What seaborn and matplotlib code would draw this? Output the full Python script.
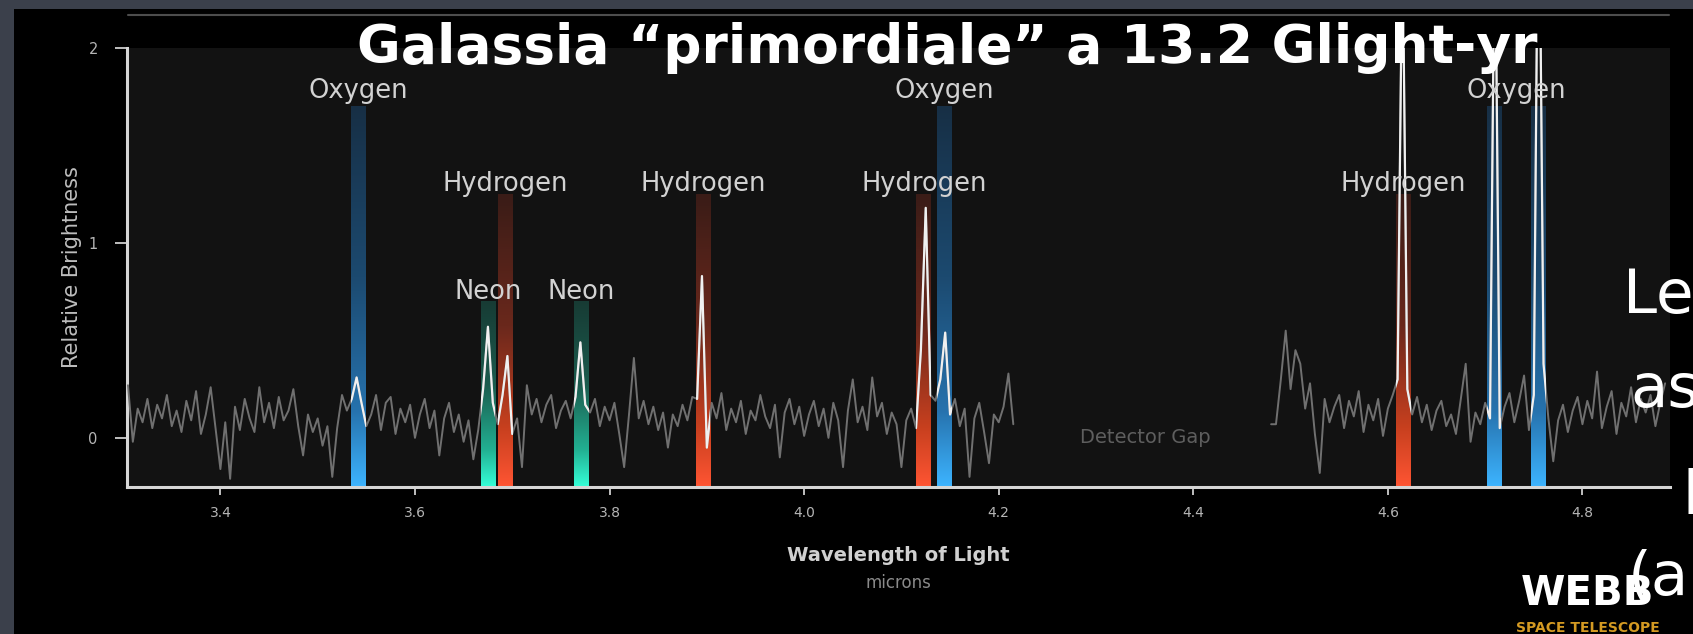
import numpy as np
import pandas as pd
import matplotlib
matplotlib.use("Agg")
import matplotlib.pyplot as plt
from matplotlib.colors import LinearSegmentedColormap
from matplotlib.patches import Rectangle
from matplotlib.lines import Line2D
import seaborn as sns

# ---------------- data ----------------
# NIRSpec spectrum, sampled every 0.005 micron on each side of the detector gap
short_start = 3.305
long_start = 4.480
step = 0.005
flux_short = [
    0.27, -0.02, 0.15, 0.08, 0.20, 0.05, 0.17, 0.10, 0.22, 0.06,
    0.14, 0.03, 0.19, 0.09, 0.24, 0.02, 0.12, 0.26, 0.05, -0.16,
    0.08, -0.21, 0.16, 0.04, 0.20, 0.10, 0.03, 0.26, 0.08, 0.18,
    0.05, 0.21, 0.09, 0.14, 0.25, 0.06, -0.09, 0.12, 0.03, 0.10,
    -0.04, 0.06, -0.20, 0.05, 0.22, 0.14, 0.20, 0.31, 0.18, 0.06,
    0.12, 0.22, 0.04, 0.18, 0.21, 0.02, 0.15, 0.08, 0.17, 0.00,
    0.12, 0.20, 0.05, 0.14, -0.09, 0.10, 0.18, 0.03, 0.12, -0.02,
    0.09, -0.11, 0.04, 0.25, 0.57, 0.18, 0.07, 0.22, 0.42, 0.02,
    0.10, -0.15, 0.27, 0.12, 0.20, 0.08, 0.17, 0.22, 0.05, 0.14,
    0.19, 0.10, 0.21, 0.49, 0.17, 0.13, 0.20, 0.06, 0.16, 0.09,
    0.18, 0.02, -0.15, 0.12, 0.41, 0.10, 0.19, 0.07, 0.16, 0.04,
    0.13, -0.05, 0.12, 0.06, 0.17, 0.09, 0.21, 0.20, 0.83, -0.05,
    0.18, 0.10, 0.23, 0.04, 0.15, 0.08, 0.19, 0.02, 0.14, 0.09,
    0.22, 0.11, 0.05, 0.17, -0.10, 0.13, 0.20, 0.07, 0.16, 0.01,
    0.12, 0.19, 0.06, 0.15, 0.00, 0.18, 0.09, -0.15, 0.14, 0.30,
    0.08, 0.16, 0.04, 0.31, 0.11, 0.18, 0.02, 0.13, 0.07, -0.15,
    0.09, 0.15, 0.05, 0.45, 1.18, 0.22, 0.19, 0.30, 0.54, 0.12,
    0.20, 0.06, 0.15, -0.20, 0.10, 0.18, 0.03, -0.13, 0.12, 0.08,
    0.16, 0.33, 0.07,
]
flux_long = [
    0.07, 0.07, 0.30, 0.55, 0.25, 0.45, 0.38, 0.15, 0.28, 0.02,
    -0.18, 0.20, 0.08, 0.16, 0.22, 0.05, 0.19, 0.11, 0.24, 0.03,
    0.17, 0.09, 0.20, 0.01, 0.15, 0.22, 0.30, 2.60, 0.25, 0.12,
    0.21, 0.08, 0.17, 0.04, 0.14, 0.19, 0.06, 0.12, 0.02, 0.20,
    0.38, -0.02, 0.13, 0.07, 0.18, 0.10, 2.80, 0.05, 0.16, 0.23,
    0.08, 0.19, 0.32, 0.04, 0.22, 3.20, 0.38, 0.10, -0.12, 0.09,
    0.17, 0.03, 0.14, 0.21, 0.07, 0.19, 0.10, 0.34, 0.05, 0.16,
    0.24, 0.02, 0.18, 0.11, 0.26, 0.08, 0.20, 0.13, 0.22, 0.06,
    0.18, 0.28,
]

# identified emission lines
line_wavelength = [3.542, 3.675, 3.693, 3.771, 3.896, 4.123, 4.144, 4.616, 4.709, 4.755]
line_element = ["Oxygen", "Neon", "Hydrogen", "Neon", "Hydrogen",
                "Hydrogen", "Oxygen", "Hydrogen", "Oxygen", "Oxygen"]
line_band_top = [1.70, 0.70, 1.25, 0.70, 1.25, 1.25, 1.70, 1.25, 1.70, 1.70]

# element labels
label_text = ["Oxygen", "Oxygen", "Oxygen",
              "Hydrogen", "Hydrogen", "Hydrogen", "Hydrogen",
              "Neon", "Neon"]
label_wavelength = [3.542, 4.144, 4.732, 3.693, 3.896, 4.123, 4.616, 3.675, 3.771]
label_level = [1.78, 1.78, 1.78, 1.30, 1.30, 1.30, 1.30, 0.75, 0.75]

x_ticks = [3.4, 3.6, 3.8, 4.0, 4.2, 4.4, 4.6, 4.8]
x_tick_labels = ["3.4", "3.6", "3.8", "4.0", "4.2", "4.4", "4.6", "4.8"]
y_ticks = [0, 1, 2]
y_tick_labels = ["0", "1", "2"]
x_range = (3.304, 4.890)
y_range = (-0.252, 2.0)

# ---------------- style ----------------
sns.set_theme(style="dark")
plt.rcParams["font.family"] = ["DejaVu Sans"]

W, H = 1693, 634
fig = plt.figure(figsize=(W / 100, H / 100), dpi=100, facecolor="#3b404b")

# black slide panel and the thin rule at its top
fig.add_artist(Rectangle((14 / W, 0), 1 - 14 / W, 1 - 9 / H, transform=fig.transFigure,
                         facecolor="black", edgecolor="none", zorder=0))
fig.add_artist(Line2D([128 / W, 1669 / W], [1 - 15 / H, 1 - 15 / H],
                      transform=fig.transFigure, color="#4d4d4d", lw=1.5))

ax = fig.add_axes([127 / W, 1 - 487 / H, (1670 - 127) / W, (487 - 48) / H])
ax.set_facecolor("#121212")

# ---------------- spectrum ----------------
wl_short = np.round(short_start + step * np.arange(len(flux_short)), 3)
wl_long = np.round(long_start + step * np.arange(len(flux_long)), 3)
spec = pd.concat([
    pd.DataFrame({"wavelength": wl_short, "flux": flux_short, "segment": "short"}),
    pd.DataFrame({"wavelength": wl_long, "flux": flux_long, "segment": "long"}),
], ignore_index=True)

band_colors = {
    "Oxygen": ["#3db4ff", "#2672ad", "#1c4a70", "#172f45"],
    "Neon": ["#35ffd8", "#22b092", "#1b5c4e", "#173b34"],
    "Hydrogen": ["#ff5533", "#c8401f", "#6a281c", "#3a1c17"],
}
cmaps = {k: LinearSegmentedColormap.from_list(k, list(zip([0, 0.2, 0.55, 1], v)))
         for k, v in band_colors.items()}
half_width = 0.0075
grad = np.linspace(0, 1, 256)[:, None]
for wl, el, top in zip(line_wavelength, line_element, line_band_top):
    ax.imshow(grad, cmap=cmaps[el], origin="lower", aspect="auto",
              extent=[wl - half_width, wl + half_width, y_range[0], top],
              interpolation="bilinear", zorder=1)

sns.lineplot(data=spec, x="wavelength", y="flux", units="segment", estimator=None,
             sort=False, color="#707070", lw=1.4, ax=ax, zorder=3)

# the spectrum turns white inside each emission band
for wl in line_wavelength:
    n0 = len(ax.lines)
    sns.lineplot(data=spec, x="wavelength", y="flux", units="segment", estimator=None,
                 sort=False, color="#f0f0f0", lw=1.6, ax=ax, zorder=4)
    clip = Rectangle((wl - half_width, y_range[0]), 2 * half_width,
                     y_range[1] - y_range[0], transform=ax.transData)
    for ln in ax.lines[n0:]:
        ln.set_clip_path(clip)

for t, x, y in zip(label_text, label_wavelength, label_level):
    ax.text(x, y, t, ha="center", va="center", color="#d2d2d2", fontsize=18.5, zorder=6)

ax.text(4.351, 0.0, "Detector Gap", ha="center", va="center", color="#5e5e5e",
        fontsize=14, zorder=6)

# ---------------- axes ----------------
ax.set_xlim(*x_range)
ax.set_ylim(*y_range)
ax.set_xticks(x_ticks, x_tick_labels)
ax.set_yticks(y_ticks, y_tick_labels)
ax.tick_params(axis="x", colors="#cfcfcf", labelcolor="#b5b5b5", labelsize=10,
               length=6, width=1.3, direction="out", pad=8, bottom=True)
ax.tick_params(axis="y", colors="#cfcfcf", labelcolor="#b5b5b5", labelsize=10.5,
               length=9, width=1.3, direction="out", pad=12, left=True)
ax.grid(False)
for side in ["top", "right"]:
    ax.spines[side].set_visible(False)
for side in ["left", "bottom"]:
    ax.spines[side].set_visible(True)
    ax.spines[side].set_color("#d6d6d6")
    ax.spines[side].set_linewidth(2.2)
ax.set_xlabel("")
ax.set_ylabel("")
ax.text(-0.0356, 0.5, "Relative Brightness", transform=ax.transAxes, rotation=90,
        ha="center", va="center", color="#bdbdbd", fontsize=15)
ax.text(0.5, -0.155, "Wavelength of Light", transform=ax.transAxes, ha="center",
        va="center", color="#d0d0d0", fontsize=14, fontweight="bold")
ax.text(0.5, -0.219, "microns", transform=ax.transAxes, ha="center", va="center",
        color="#8a8a8a", fontsize=12)

# ---------------- slide overlay ----------------
fig.text(947 / W, 1 - 63 / H, "Galassia \u201cprimordiale\u201d a 13.2 Glight-yr",
         ha="center", va="baseline", color="white", fontsize=38.5, fontweight="bold", zorder=10)

fig.text(1588 / W, 1 - 594 / H, "WEBB", ha="center", va="center", color="white",
         fontsize=29, fontweight="heavy", zorder=9)
fig.text(1588 / W, 1 - 628 / H, "SPACE TELESCOPE", ha="center", va="center",
         color="#d49a22", fontsize=10, fontweight="bold", zorder=9)

for t, x, y in zip(["Le", "as", "p", "(a"], [1623, 1630, 1682, 1628], [313, 407, 501, 595]):
    fig.text(x / W, 1 - y / H, t, ha="left", va="baseline", color="white",
             fontsize=44, zorder=11)

fig.savefig("out.png", dpi=100, facecolor=fig.get_facecolor())
